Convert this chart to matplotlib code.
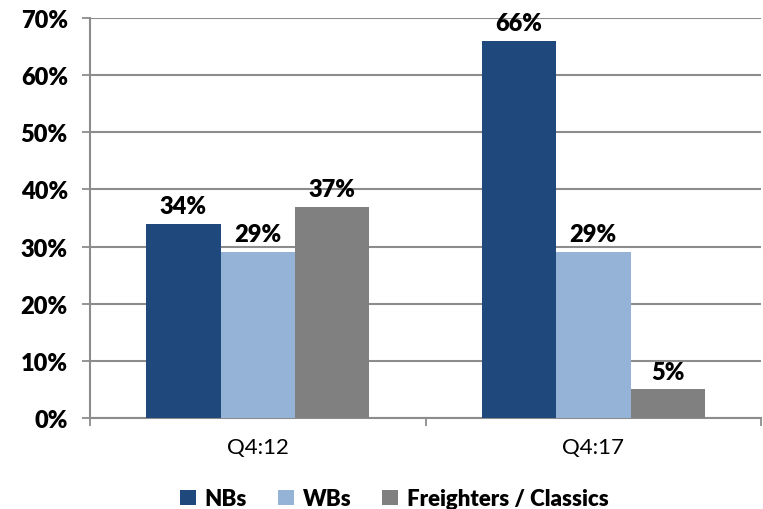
import matplotlib.pyplot as plt
import numpy as np

categories = ['Q4:12', 'Q4:17']
series = ['NBs', 'WBs', 'Freighters / Classics']
values = [
    [34, 66],   # NBs
    [29, 29],   # WBs
    [37, 5],    # Freighters / Classics
]
colors = ['#1F497D', '#95B3D7', '#808080']
yticks = [0, 10, 20, 30, 40, 50, 60, 70]

plt.rcParams['font.family'] = ['Lato', 'DejaVu Sans']

fig = plt.figure(figsize=(7.63, 5.10), dpi=100)
ax = fig.add_axes([0.118, 0.1784, 0.8794, 0.7843])

x = np.arange(len(categories))
w = 0.222
for i, (name, vals) in enumerate(zip(series, values)):
    pos = x + (i - 1) * w
    bars = ax.bar(pos, vals, width=w, color=colors[i], label=name, zorder=3)
    for b, v in zip(bars, vals):
        ax.annotate(f'{v}%', (b.get_x() + b.get_width() / 2, v),
                    xytext=(0, 5), textcoords='offset points',
                    ha='center', va='bottom', fontsize=17, fontweight='heavy')

ax.set_xlim(-0.5, 1.5)
ax.set_ylim(0, 70)
ax.set_yticks(yticks)
ax.set_yticklabels([f'{t}%' for t in yticks], fontsize=17, fontweight='heavy')
ax.set_xticks(x)
ax.set_xticklabels(categories, fontsize=16)
ax.set_xticks([-0.5, 0.5, 1.5], minor=True)
ax.tick_params(axis='x', which='major', length=0, pad=14)
ax.tick_params(axis='x', which='minor', length=6, color='#8c8c8c', width=1.3)
ax.tick_params(axis='y', length=6, color='#8c8c8c', width=1.3, pad=10)

ax.grid(axis='y', color='#8c8c8c', linewidth=1.5, zorder=0)
for s in ['top', 'right']:
    ax.spines[s].set_visible(False)
ax.spines['left'].set_color('#8c8c8c')
ax.spines['left'].set_linewidth(1.5)
ax.spines['bottom'].set_color('#8c8c8c')
ax.spines['bottom'].set_linewidth(1.5)

fig.legend(loc='lower center', bbox_to_anchor=(0.517, -0.04), ncol=3, frameon=False,
           prop={'size': 16, 'weight': 'heavy'}, handlelength=0.7, handleheight=0.7,
           handletextpad=0.4, columnspacing=1.4)

fig.savefig('out.png', dpi=100)
